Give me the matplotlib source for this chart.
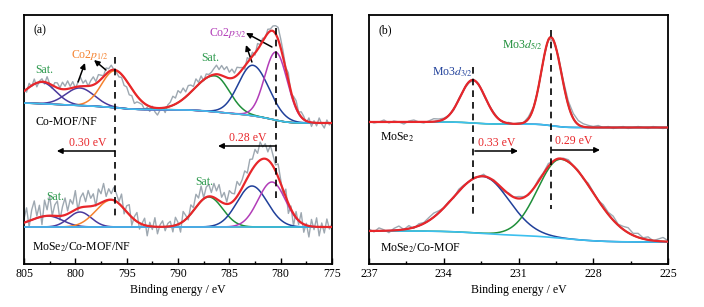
import numpy as np
import matplotlib
matplotlib.use('Agg')
import matplotlib.pyplot as plt
from matplotlib.ticker import MultipleLocator

plt.rcParams['font.family'] = ['Liberation Serif', 'DejaVu Serif']
plt.rcParams['mathtext.fontset'] = 'stix'

# ---------------- Co 2p (a) ----------------
# order: sat, sat, 2p1/2, sat, 2p3/2, 2p3/2
co_colors = ['#4a3a9c', '#4a3a9c', '#f5822f', '#1f8f3a', '#20409a', '#b23db8']

co_center_top = [803.25, 799.55, 796.14, 786.4, 782.7, 780.46]
co_height_top = [21.5, 17.5, 37, 36, 50.5, 68]
co_sig_hi_top = [1.6, 1.4, 1.3, 2.0, 1.4, 1.1]
co_sig_lo_top = [1.35, 1.4, 1.5, 1.4, 1.55, 1.1]
co_base_top = [161, 141]          # background at 805 eV / 775 eV

co_center_bot = [802.66, 799.55, 796.5, 787.0, 782.8, 780.85]
co_height_bot = [11, 15, 27, 30, 41, 45]
co_sig_hi_bot = [1.7, 1.1, 1.5, 1.36, 1.45, 1.35]
co_sig_lo_bot = [1.4, 1.1, 1.4, 1.35, 1.5, 1.3]
co_base_bot = [37, 37]

# raw minus fit, every 0.25 eV from 805 to 775
co_resid_top = [2, -3, 4, -1, 5, -4, 1, 3, -2, 6, 0, -3, 4,
                5, 1, 7, 3, 8, 2, 6, -1, 4, 9, 3, 6, 0, 5, 8, 2, 7, 4, 1, 6, 3, 5, 0,
                -2, -5, -3, -8, -6, -10, -7, -11, -6, -4,
                -3, -6, -2, -5, 1, -4, -7, -2, 0, -5, 2,
                4, 9, 6, 12, 8, 11, 5, 9,
                7, 3, 8, 2, 6, -1, 4, 2,
                3, 6, 9, 5, 10, 7, 11, 6, 9, 4, 8, 5,
                2, -3, 5, 0, 4, -2, 6, 1, 3, -1, 4, 2,
                5, 8, 12, 9,
                6, 2, 8, -3, 4, 7, 1, 5,
                3, -2, 4, -4, 2, -3, 5, -1, -5, 3, -2, 1]
co_resid_bot = [4, 14, -6, 10, 18, 2, 12, -8, 16, 6, 20, 0, 11, 15, -4, 9, 17, 3,
                13, 7, 19, -2, 10, 14, 5, 16, 8, 12, -1, 15, 9, 18, 4, 11, 6, 13,
                8, 2, 12, -5, 6, 10, -8, 3, 9, -6, 1, 7, -10, 4, -3, 9, -7, 2, 6, -4, 3,
                5, -6, 8, 2, -9, 10, 4, -3,
                9, 3, 13, 6, 15, 1, 10, 12, 4, 14, 8, 16, 5, 11, 2, 13, 9, 6, 15, 7,
                8, 12, 5, 14, 10, 16, 9, 18, 12, 15, 8, 17, 11, 6, 13, 4,
                -5, 8, -10, 3, -12, 6, -4, 10, -8, 2, -11, 7, -3, 9, -9, 4, -6, 8, -2, 3]

# ---------------- Mo 3d (b) ----------------
mo_colors = ['#20409a', '#1f8f3a']

mo_center_top = [232.83, 229.70]
mo_height_top = [43, 88.5]
mo_sig_hi_top = [0.5, 0.38]
mo_sig_lo_top = [0.5, 0.42]
mo_base_top = [142, 136.5]

mo_center_bot = [232.43, 229.30]
mo_height_bot = [57, 79]
mo_sig_hi_bot = [1.18, 0.92]
mo_sig_lo_bot = [1.05, 1.3]
mo_base_bot = [33, 22]

# raw minus fit, every 0.2 eV from 237 to 225
mo_resid_top = [1, -1, 0, 2, -1, 1, 0, -2, 1, 2, 0, -1, 1, 3, 2, 1, 0, -1, 1, 0, -1,
                0, 1, -1, 0, 1, 0, -1, 1, 0, 1,
                0, 2, 1, -1, 0, 1, -1, 2, 3, 4,
                5, 4, 3, 2, 1, 2, 0, 1, -1, 0,
                1, -1, 0, 1, 0, -1, 1, 0, -1, 0]
mo_resid_bot = [2, -1, 3, 1, -2, 2, 4, 0, 3, -1, 2, 1, 3, 4, 2, 0, 1, -1, 2, 1, 0,
                1, 0, 2, -1, 1, 0, -2, 1, 0, 2,
                1, -1, 0, 2, 1, 3, 0, -1, 1, 2,
                0, 1, -1, 2, 1, 0, 3, 2, 4, 1,
                3, 5, 2, 4, 1, 3, 0, 2, 4, 1]

RED = '#e8262a'
GRAY = '#9ea8b1'
CYAN = '#3cc0ef'


def peak(x, c, h, s_hi, s_lo):
    s = np.where(x > c, s_hi, s_lo)
    return h * np.exp(-(x - c) ** 2 / (2 * s ** 2))


def shirley(sig, hi, lo):
    # x runs from high to low binding energy
    cum = np.cumsum(sig[::-1])[::-1]
    return lo + (hi - lo) * cum / cum[0]


def draw_spectrum(ax, x, step, resid, centers, heights, s_hi, s_lo, base, colors):
    comps = [peak(x, *p) for p in zip(centers, heights, s_hi, s_lo)]
    total = np.sum(comps, axis=0)
    bg = shirley(total, *base)
    fit = bg + total
    ax.plot(x[::step], fit[::step] + np.array(resid), color=GRAY, lw=1.0, zorder=1)
    for comp, col in zip(comps, colors):
        ax.plot(x, bg + comp, color=col, lw=1.1, zorder=2)
    ax.plot(x, bg, color=CYAN, lw=1.2, zorder=3)
    ax.plot(x, fit, color=RED, lw=1.6, zorder=4)


fig = plt.figure(figsize=(7.04, 3.07), dpi=100)
axa = fig.add_axes([24 / 704, 43 / 307, 308 / 704, 249 / 307])
axb = fig.add_axes([369 / 704, 43 / 307, 299 / 704, 249 / 307])

xa = np.linspace(805, 775, 601)
draw_spectrum(axa, xa, 5, co_resid_top, co_center_top, co_height_top,
              co_sig_hi_top, co_sig_lo_top, co_base_top, co_colors)
draw_spectrum(axa, xa, 5, co_resid_bot, co_center_bot, co_height_bot,
              co_sig_hi_bot, co_sig_lo_bot, co_base_bot, co_colors)

xb = np.linspace(237, 225, 601)
draw_spectrum(axb, xb, 10, mo_resid_top, mo_center_top, mo_height_top,
              mo_sig_hi_top, mo_sig_lo_top, mo_base_top, mo_colors)
draw_spectrum(axb, xb, 10, mo_resid_bot, mo_center_bot, mo_height_bot,
              mo_sig_hi_bot, mo_sig_lo_bot, mo_base_bot, mo_colors)

for ax in (axa, axb):
    ax.set_ylim(0, 249)
    ax.set_yticks([])
    ax.tick_params(axis='x', which='both', direction='in', top=False,
                   labelsize=8.5, pad=3)
    ax.tick_params(axis='x', which='major', length=4, width=1)
    ax.tick_params(axis='x', which='minor', length=2.5, width=1)
    for sp in ax.spines.values():
        sp.set_linewidth(1.3)
    ax.set_xlabel('Binding energy / eV', fontsize=8.5, labelpad=2.5)

axa.set_xlim(805, 775)
axa.xaxis.set_major_locator(MultipleLocator(5))
axa.xaxis.set_minor_locator(MultipleLocator(2.5))
axb.set_xlim(237, 225)
axb.xaxis.set_major_locator(MultipleLocator(3))
axb.xaxis.set_minor_locator(MultipleLocator(1.5))

dash = dict(color='k', lw=1.2, dashes=(4, 3), zorder=5)
arr = dict(arrowstyle='-|>', color='k', lw=1.1, mutation_scale=8, shrinkA=0, shrinkB=0)
GREEN_T = '#2e9a4e'
fs = 8.5

# ---- panel (a) annotations
axa.text(803.4, 234, '(a)', fontsize=fs, ha='center', va='center')
axa.text(803.0, 194, 'Sat.', fontsize=fs, color=GREEN_T, ha='center', va='center')
axa.text(798.6, 209, r'Co2$p_{1/2}$', fontsize=fs, color='#f5822f', ha='center', va='center')
axa.text(786.9, 206, 'Sat.', fontsize=fs, color=GREEN_T, ha='center', va='center')
axa.text(785.1, 231, r'Co2$p_{3/2}$', fontsize=fs, color='#b23db8', ha='center', va='center')
axa.text(803.9, 142, 'Co-MOF/NF', fontsize=fs, ha='left', va='center')
axa.text(802.0, 67, 'Sat.', fontsize=fs, color=GREEN_T, ha='center', va='center')
axa.text(787.4, 82, 'Sat.', fontsize=fs, color=GREEN_T, ha='center', va='center')
axa.text(804.2, 17, r'MoSe$_2$/Co-MOF/NF', fontsize=fs, ha='left', va='center')

axa.plot([796.14, 796.14], [207, 46], **dash)
axa.plot([780.46, 780.46], [236, 64], **dash)

axa.text(798.8, 121, '0.30 eV', fontsize=fs, color=RED, ha='center', va='center')
axa.annotate('', xy=(801.8, 113), xytext=(796.14, 113), arrowprops=arr)
axa.text(783.2, 126, '0.28 eV', fontsize=fs, color=RED, ha='center', va='center')
axa.annotate('', xy=(786.1, 118), xytext=(780.46, 118), arrowprops=arr)

axa.annotate('', xy=(799.06, 201), xytext=(799.74, 182), arrowprops=arr)
axa.annotate('', xy=(798.18, 204), xytext=(797.02, 194), arrowprops=arr)
axa.annotate('', xy=(783.38, 219), xytext=(782.8, 202), arrowprops=arr)
axa.annotate('', xy=(783.38, 231), xytext=(780.85, 217), arrowprops=arr)

# ---- panel (b) annotations
axb.text(236.36, 234, '(b)', fontsize=fs, ha='center', va='center')
axb.text(233.67, 192, r'Mo3$d_{3/2}$', fontsize=fs, color='#20409a', ha='center', va='center')
axb.text(230.86, 219, r'Mo3$d_{5/2}$', fontsize=fs, color='#1f8f3a', ha='center', va='center')
axb.text(236.56, 127, r'MoSe$_2$', fontsize=fs, ha='left', va='center')
axb.text(236.56, 16, r'MoSe$_2$/Co-MOF', fontsize=fs, ha='left', va='center')

axb.plot([232.83, 232.83], [197, 46], **dash)
axb.plot([229.70, 229.70], [234, 55], **dash)

axb.text(231.86, 121, '0.33 eV', fontsize=fs, color=RED, ha='center', va='center')
axb.annotate('', xy=(231.02, 113), xytext=(232.75, 113), arrowprops=arr)
axb.text(228.77, 123, '0.29 eV', fontsize=fs, color=RED, ha='center', va='center')
axb.annotate('', xy=(227.73, 114), xytext=(229.66, 114), arrowprops=arr)

fig.savefig('out.png', dpi=100)
